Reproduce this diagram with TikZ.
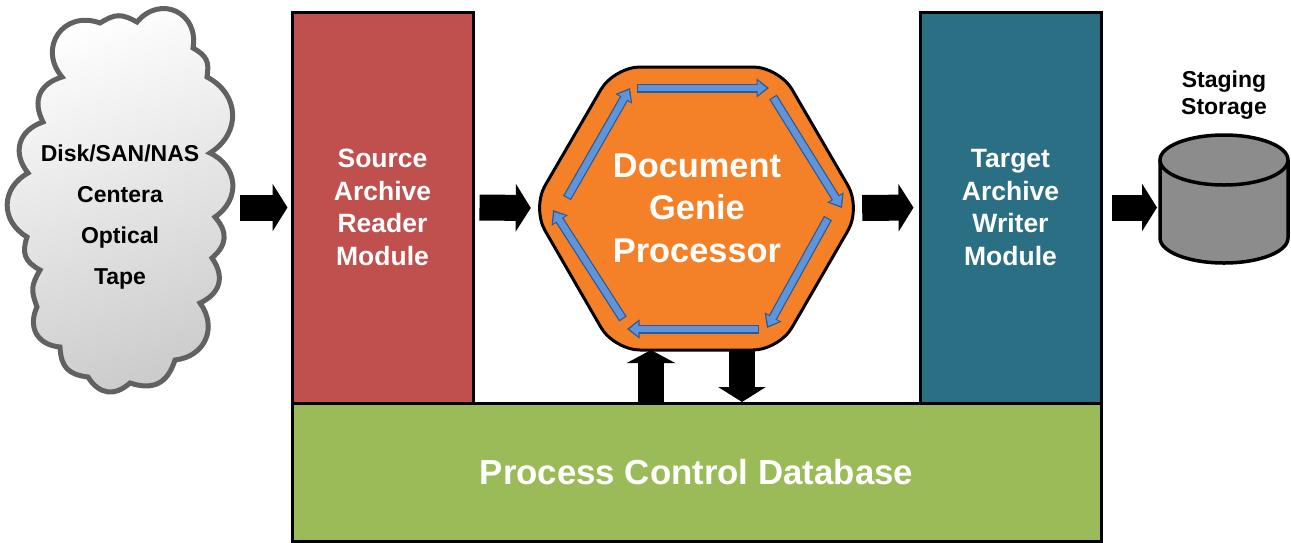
\documentclass[tikz,border=0pt]{standalone}
\usepackage{fontspec}
\setmainfont{Liberation Sans}
\usetikzlibrary{arrows.meta}
\definecolor{readerred}{HTML}{C0504D}
\definecolor{writerteal}{HTML}{2A6F83}
\definecolor{dbgreen}{HTML}{9BBB59}
\definecolor{genieorange}{HTML}{F48127}
\definecolor{flowblue}{HTML}{5F94DA}
\definecolor{flowedge}{HTML}{2C5A94}
\tikzset{
	modulebox/.style={draw=black,line width=3pt,text=white,align=center,font=\bfseries\fontsize{26.5}{32.7}\selectfont,inner sep=0pt},
	blockflow/.style={line width=26pt,black,-{Triangle[length=15pt,width=47pt]}},
	lobe/.style={bend left=#1,looseness=1.25},
	lobe/.default=60,
	ringflow/.style={line width=6.5pt,flowblue,shorten <=1.2pt,shorten >=2.4pt,-{Triangle[length=9pt,width=14pt]},
		preaction={draw=flowedge,line width=9pt,shorten <=0pt,shorten >=0pt,-{Triangle[length=12.5pt,width=18.5pt]}}},
}
\begin{document}
\begin{tikzpicture}[x=1pt,y=-1pt]
	\useasboundingbox (0,0) rectangle (1291,542);
	\draw[draw=black!62,line width=5pt,top color=white,bottom color=black!20,shading angle=20]
		(137,22) to[lobe=75,looseness=1.5] (193,48) to[lobe=35] (207,77) to[lobe] (210,153)
		to[lobe] (215,217) to[lobe=45] (212,258) to[lobe=50] (200,303) to[lobe] (175,360)
		to[lobe=45] (130,383) to[lobe=50] (88,377) to[lobe=40] (60,347) to[lobe=55] (37,307)
		to[lobe=25] (40,270) to[lobe=40] (27,237) to[lobe] (28,173) to[lobe=55] (43,122)
		to[lobe=50] (62,77) to[lobe=75,looseness=1.5] (100,23) to[lobe=30] cycle;
	\node[align=center,minimum width=230pt,font=\bfseries\fontsize{23}{40.7}\selectfont] (cloud) at (120,217) {Disk/SAN/NAS\\Centera\\Optical\\Tape};

	\node[modulebox,fill=dbgreen,minimum width=809pt,minimum height=138pt,font=\bfseries\fontsize{34.8}{36}\selectfont] (database) at (696.5,472) {Process Control Database};
	\node[modulebox,fill=readerred,minimum width=181pt,minimum height=391pt] (reader) at (382.5,207.5) {Source\\Archive\\Reader\\Module};
	\node[modulebox,fill=writerteal,minimum width=181pt,minimum height=391pt] (writer) at (1010.5,207.5) {Target\\Archive\\Writer\\Module};

	\draw[fill=genieorange,line width=3pt,rounded corners=26pt] (532,208) -- (614,67) -- (779,67) -- (861,208) -- (779,350) -- (614,350) -- cycle;
	\node[text=white,align=center,minimum width=320pt,minimum height=283pt,inner sep=0pt,font=\bfseries\fontsize{34.4}{42.5}\selectfont] (genie) at (697,208) {Document\\Genie\\Processor};

	\coordinate (ringa) at (637,88);
	\coordinate (ringb) at (769,88);
	\coordinate (ringc) at (773,97);
	\coordinate (ringd) at (842,208);
	\coordinate (ringe) at (828,218);
	\coordinate (ringf) at (767,328);
	\coordinate (ringg) at (759,329);
	\coordinate (ringh) at (627,329);
	\coordinate (ringi) at (623,319);
	\coordinate (ringj) at (553,210);
	\coordinate (ringk) at (567,198);
	\coordinate (ringl) at (630,88);
	\draw[ringflow] (ringa) -- (ringb);
	\draw[ringflow] (ringc) -- (ringd);
	\draw[ringflow] (ringe) -- (ringf);
	\draw[ringflow] (ringg) -- (ringh);
	\draw[ringflow] (ringi) -- (ringj);
	\draw[ringflow] (ringk) -- (ringl);

	% staging disk
	\draw[fill=black!45,line width=3.5pt] (1160,160) -- (1160,238) arc[start angle=180,end angle=0,x radius=64,y radius=25] -- (1288,160);
	\draw[fill=black!45,line width=3.5pt] (1224,160) ellipse[x radius=64,y radius=25];
	\coordinate (storage) at (1160,207.5);
	\node[align=center,font=\bfseries\fontsize{23}{27}\selectfont] (staging) at (1224,95) {Staging\\Storage};

	\draw[blockflow,shorten <=5pt,shorten >=3pt] (cloud.east |- reader.west) -- (reader.west);
	\draw[blockflow,shorten <=5pt,shorten >=6pt] (reader.east) -- (genie.west);
	\draw[blockflow,shorten <=5pt,shorten >=5pt] (genie.east) -- (writer.west);
	\draw[blockflow,shorten <=9pt,shorten >=3pt] (writer.east) -- (storage);

	\coordinate (uptail) at (651,403);
	\coordinate (uphead) at (651,350);
	\coordinate (downtail) at (742,350);
	\coordinate (downhead) at (742,402);
	\draw[blockflow,-{Triangle[length=13pt,width=48pt]}] (uptail) -- (uphead);
	\draw[blockflow] (downtail) -- (downhead);
\end{tikzpicture}
\end{document}
